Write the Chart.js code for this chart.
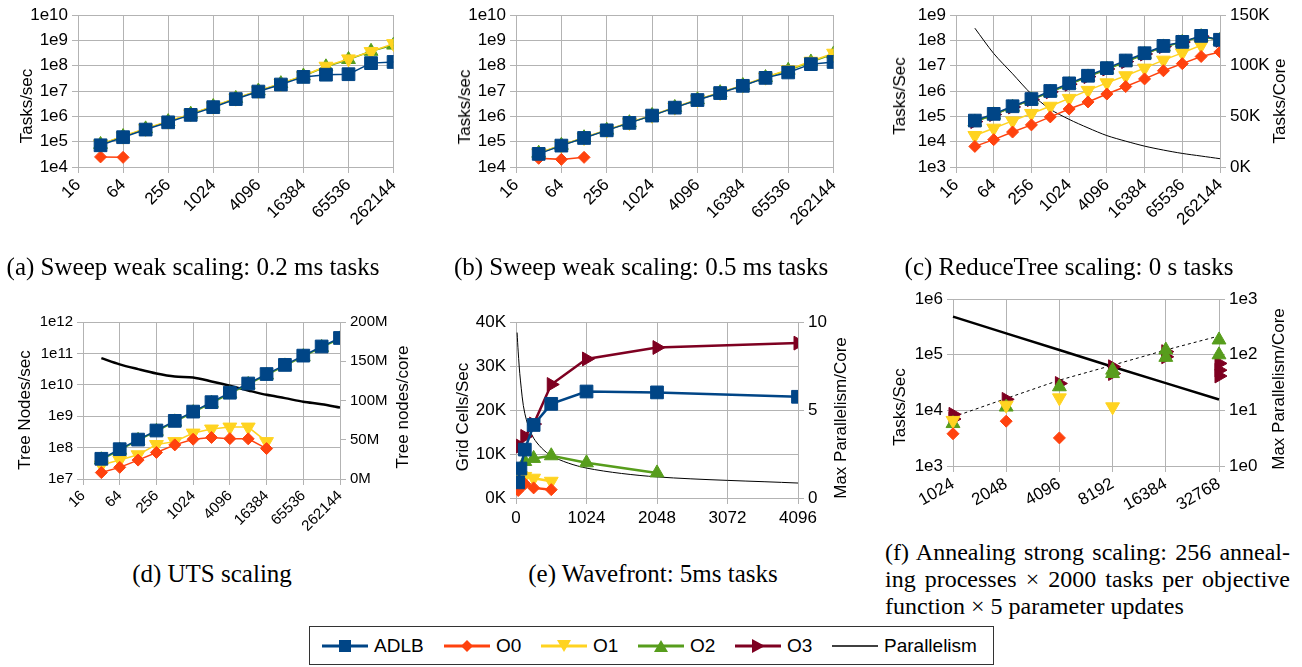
<!DOCTYPE html>
<html>
<head>
<meta charset="utf-8">
<script src="https://cdn.jsdelivr.net/npm/chart.js@4.4.1/dist/chart.umd.min.js"></script>
<style>
  body { margin: 0; background: #fff; width: 1302px; height: 667px; position: relative; overflow: hidden; font-family: "Liberation Sans", Arial, sans-serif; }
  canvas { position: absolute; }
  .cap { position: absolute; font-family: "Liberation Serif", "Times New Roman", serif; font-size: 25px; color: #000; white-space: nowrap; transform: translateX(-50%); line-height: 27px; }
  .capf { position: absolute; left: 885px; width: 405px; font-family: "Liberation Serif", "Times New Roman", serif; font-size: 24px; color: #000; white-space: nowrap; line-height: 27px; }
  .just { text-align: justify; text-align-last: justify; }
  .at { position: absolute; font-size: 17px; color: #000; white-space: nowrap; transform: translate(-50%, -50%) rotate(-90deg); }
  #legend { position: absolute; left: 309px; top: 626px; width: 683px; height: 37px; border: 1px solid #333; }
  .li { position: absolute; top: 0; height: 37px; display: flex; align-items: center; font-size: 19px; color: #000; }
  .li svg { margin-right: 6px; }
</style>
</head>
<body>
<canvas id="ca" width="410" height="245" style="left:0;top:0"></canvas>
<canvas id="cb" width="420" height="245" style="left:430px;top:0"></canvas>
<canvas id="cc" width="442" height="245" style="left:860px;top:0"></canvas>
<canvas id="cd" width="430" height="245" style="left:0;top:300px"></canvas>
<canvas id="ce" width="430" height="245" style="left:430px;top:300px"></canvas>
<canvas id="cf" width="442" height="250" style="left:860px;top:285px"></canvas>

<div class="at" style="left:27px;top:106px">Tasks/sec</div>
<div class="at" style="left:465px;top:107px">Tasks/sec</div>
<div class="at" style="left:900px;top:96px">Tasks/Sec</div>
<div class="at" style="left:1280px;top:101px">Tasks/Core</div>
<div class="at" style="left:25px;top:410px">Tree Nodes/sec</div>
<div class="at" style="left:403px;top:407px">Tree nodes/core</div>
<div class="at" style="left:463px;top:417px">Grid Cells/Sec</div>
<div class="at" style="left:841px;top:418px">Max Parallelism/Core</div>
<div class="at" style="left:900px;top:407px">Tasks/Sec</div>
<div class="at" style="left:1279px;top:389px">Max Parallelism/Core</div>

<div class="cap" style="left:193px;top:253px">(a) Sweep weak scaling: 0.2 ms tasks</div>
<div class="cap" style="left:641px;top:253px">(b) Sweep weak scaling: 0.5 ms tasks</div>
<div class="cap" style="left:1069px;top:253px">(c) ReduceTree scaling: 0 s tasks</div>
<div class="cap" style="left:212px;top:560px">(d) UTS scaling</div>
<div class="cap" style="left:653px;top:560px">(e) Wavefront: 5ms tasks</div>
<div class="capf just" style="top:539px">(f) Annealing strong scaling: 256 anneal-</div>
<div class="capf just" style="top:566px">ing processes × 2000 tasks per objective</div>
<div class="capf" style="top:593px">function × 5 parameter updates</div>

<div id="legend"></div>

<script>
// ---- data ----
const xsWeak = [32, 64, 128, 256, 512, 1024, 2048, 4096, 8192, 16384, 32768, 65536, 131072, 262144];
const xTicksLog2 = [16, 64, 256, 1024, 4096, 16384, 65536, 262144];

// (a) sweep 0.2 ms
const adlbA = [7.2e4, 1.5e5, 3.0e5, 5.8e5, 1.14e6, 2.3e6, 4.8e6, 9.5e6, 1.8e7, 3.6e7, 4.4e7, 4.6e7, 1.26e8, 1.4e8];
const o0A = [2.5e4, 2.4e4];
const o1A = [8.0e4, 1.65e5, 3.3e5, 6.4e5, 1.25e6, 2.5e6, 5.2e6, 1.03e7, 2.0e7, 4.0e7, 9.5e7, 1.85e8, 3.6e8, 7.4e8];
const o2A = [7.8e4, 1.6e5, 3.2e5, 6.2e5, 1.22e6, 2.45e6, 5.1e6, 1.0e7, 1.95e7, 3.9e7, 9.0e7, 1.75e8, 3.7e8, 6.5e8];
const yTicksSweep = [1e4, 1e5, 1e6, 1e7, 1e8, 1e9, 1e10];

// (b) sweep 0.5 ms
const adlbB = [3.3e4, 7.0e4, 1.4e5, 2.8e5, 5.5e5, 1.07e6, 2.2e6, 4.4e6, 8.3e6, 1.6e7, 3.3e7, 5.4e7, 1.15e8, 1.4e8];
const o0B = [2.2e4, 2.0e4, 2.4e4];
const o1B = [3.6e4, 7.3e4, 1.45e5, 2.9e5, 5.7e5, 1.1e6, 2.3e6, 4.6e6, 8.8e6, 1.7e7, 3.5e7, 7.0e7, 1.5e8, 3.1e8];
const o2B = [3.5e4, 7.2e4, 1.43e5, 2.85e5, 5.6e5, 1.09e6, 2.25e6, 4.5e6, 8.6e6, 1.65e7, 3.4e7, 6.6e7, 1.4e8, 2.9e8];

// (c) reduce tree
const adlbC = [6.8e4, 1.25e5, 2.5e5, 4.8e5, 1.0e6, 2.0e6, 4.0e6, 8.0e6, 1.6e7, 3.1e7, 6.0e7, 8.7e7, 1.5e8, 1.05e8];
const o0C = [6.5e3, 1.2e4, 2.4e4, 4.6e4, 9.5e4, 1.95e5, 3.7e5, 7.6e5, 1.5e6, 3.0e6, 6.3e6, 1.2e7, 2.3e7, 3.5e7];
const o1C = [1.75e4, 3.4e4, 6.6e4, 1.3e5, 2.5e5, 5.1e5, 1.06e6, 2.1e6, 4.0e6, 8.0e6, 1.65e7, 3.2e7, 6.4e7];
const o2C = [6.0e4, 1.15e5, 2.3e5, 4.5e5, 9.0e5, 1.8e6, 3.6e6, 7.2e6, 1.4e7, 2.8e7, 5.5e7, 8.3e7, 1.4e8, 1.0e8];
const o3C = [6.2e4, 1.18e5, 2.35e5, 4.6e5, 9.3e5, 1.85e6, 3.7e6, 7.4e6, 1.45e7, 2.9e7, 5.7e7, 8.5e7, 1.45e8, 1.0e8];
const parC = [137000, 112000, 92000, 72000, 57000, 47000, 38600, 31000, 25500, 20600, 16700, 13400, 10800, 8200];
const yTicksC = [1e3, 1e4, 1e5, 1e6, 1e7, 1e8, 1e9];
const rTicksC = [0, 50000, 100000, 150000];

// (d) UTS
const adlbD = [4.4e7, 8.9e7, 1.8e8, 3.5e8, 7.1e8, 1.4e9, 2.8e9, 5.6e9, 1.1e10, 2.2e10, 4.3e10, 8.5e10, 1.66e11, 3.1e11];
const o0D = [1.6e7, 2.35e7, 4.0e7, 7.0e7, 1.22e8, 1.85e8, 2.1e8, 1.93e8, 1.9e8, 9.3e7];
const o1D = [2.8e7, 4.0e7, 5.9e7, 1.25e8, 1.55e8, 2.9e8, 3.9e8, 4.5e8, 4.5e8, 1.55e8];
const o2D = [4.1e7, 8.3e7, 1.7e8, 3.3e8, 6.6e8, 1.3e9, 2.6e9, 5.2e9, 1.03e10, 2.05e10, 4.0e10, 7.9e10, 1.55e11, 2.9e11];
const parD = [154e6, 146e6, 140e6, 134.5e6, 130.6e6, 129.4e6, 124.3e6, 118.7e6, 112.8e6, 107.2e6, 103e6, 98.3e6, 95.3e6, 91e6];
const yTicksD = [1e7, 1e8, 1e9, 1e10, 1e11, 1e12];
const rTicksD = [0, 50e6, 100e6, 150e6, 200e6];

// (e) wavefront
const xsE = [32, 64, 128, 256, 512, 1024, 2048, 4096];
const adlbE = [3560, 6700, 11000, 16600, 21400, 24200, 24000, 23000];
const o0E = [1700, 2600, 3200, 2300, 1900];
const o1E = [null, 5100, 4900, 4500, 3800];
const o2E = [null, null, 8300, 9000, 9600, 8000, 5700];
const o3E = [null, 11800, 14000, 16800, 25800, 31600, 34200, 35200];
const xsParE = [16, 32, 64, 128, 256, 512, 1024, 2048, 4096];
const parE = [9.4, 8.3, 6.7, 4.8, 3.4, 2.4, 1.7, 1.2, 0.85];
const xTicksE = [0, 1024, 2048, 3072, 4096];
const yTicksE = [0, 10000, 20000, 30000, 40000];
const rTicksE = [0, 5, 10];

// (f) annealing
const catsF = ['1024', '2048', '4096', '8192', '16384', '32768'];
const o0FX = ['1024', '2048', '4096'];
const o0FY = [3800, 6400, 3200];
const o1FX = ['1024', '2048', '4096', '8192'];
const o1FY = [6600, 12400, 16800, 11600];
const o2FX = ['1024', '2048', '4096', '8192', '8192', '16384', '16384', '32768', '32768'];
const o2FY = [5800, 11500, 26600, 53000, 46000, 122000, 90000, 185000, 100000];
const o3FX = ['1024', '1024', '2048', '4096', '8192', '8192', '16384', '16384', '32768', '32768', '32768'];
const o3FY = [8500, 7000, 15800, 30500, 61000, 46000, 114000, 92000, 70000, 53000, 41500];
const idealF = [7600, 16400, 35000, 65000, 122000, 218000];
const parF = [486, 243, 122, 61, 31, 15.7];
const yTicksF = [1e3, 1e4, 1e5, 1e6];
const rTicksF = [1, 10, 100, 1000];

// ---- styles ----
const gridColor = '#b3b3b3';
const FAM = "'Liberation Sans', Arial, sans-serif";
const tickFont = { family: FAM, size: 17 };
const smallTickFont = { family: FAM, size: 15 };
const STY = {
  ADLB: { color: '#004586', style: 'rect', r: 9, rot: 0 },
  O0: { color: '#ff420e', style: 'rectRot', r: 6, rot: 0 },
  O1: { color: '#ffd320', style: 'triangle', r: 8, rot: 180 },
  O2: { color: '#579d1c', style: 'triangle', r: 8, rot: 0 },
  O3: { color: '#7e0021', style: 'triangle', r: 8, rot: 90 }
};

function pts(xs, ys) {
  return ys.map((y, i) => ({ x: xs[i], y: y })).filter(p => p.y != null);
}

function series(name, xs, ys, extra) {
  const s = STY[name];
  return Object.assign({
    label: name, data: pts(xs, ys),
    borderColor: s.color, backgroundColor: s.color,
    pointBackgroundColor: s.color, pointBorderColor: s.color, pointBorderWidth: 1,
    pointStyle: s.style, pointRadius: s.r, pointRotation: s.rot,
    borderWidth: 1.5, yAxisID: 'y'
  }, extra || {});
}

function parLine(xs, ys, width) {
  return {
    label: 'Parallelism', data: pts(xs, ys), yAxisID: 'y2',
    borderColor: '#000', borderWidth: width, pointRadius: 0, tension: 0.3
  };
}

function fixTicks(list) {
  return s => { s.ticks = list.map(v => ({ value: v })); };
}

function yAxis(type, ticks, fmt, width, pos, font) {
  const right = pos === 'right';
  return {
    type: type, position: pos || 'left',
    min: ticks[0], max: ticks[ticks.length - 1],
    afterBuildTicks: fixTicks(ticks),
    afterFit: s => { s.width = width; },
    ticks: { callback: fmt, font: font || tickFont, color: '#000', padding: 4, autoSkip: false },
    grid: { color: gridColor, tickLength: 6, drawOnChartArea: !right },
    border: { color: gridColor }
  };
}

function xLog2(height, font) {
  return {
    type: 'logarithmic', position: 'bottom', min: 16, max: 262144,
    afterBuildTicks: fixTicks(xTicksLog2),
    afterFit: s => { s.height = height; },
    ticks: { callback: v => String(v), minRotation: 45, maxRotation: 45, autoSkip: false, font: font || tickFont, color: '#000', padding: 2 },
    grid: { color: gridColor, tickLength: 6 },
    border: { color: gridColor }
  };
}

const fmtExp = v => '1e' + Math.round(Math.log10(v));

function makeChart(id, datasets, scales, padding) {
  new Chart(document.getElementById(id), {
    type: 'line',
    data: { datasets: datasets },
    options: {
      responsive: false, animation: false, devicePixelRatio: 1,
      layout: { padding: padding },
      plugins: { legend: { display: false }, tooltip: { enabled: false } },
      scales: scales
    }
  });
}

// (a)
makeChart('ca', [
  series('ADLB', xsWeak, adlbA),
  series('O0', xsWeak, o0A),
  series('O1', xsWeak, o1A),
  series('O2', xsWeak, o2A)
], {
  x: xLog2(78),
  y: yAxis('logarithmic', yTicksSweep, fmtExp, 78)
}, { top: 15, right: 10, left: 0, bottom: 0 });

// (b)
makeChart('cb', [
  series('ADLB', xsWeak, adlbB),
  series('O0', xsWeak, o0B),
  series('O1', xsWeak, o1B),
  series('O2', xsWeak, o2B)
], {
  x: xLog2(78),
  y: yAxis('logarithmic', yTicksSweep, fmtExp, 86)
}, { top: 15, right: 12, left: 0, bottom: 0 });

// (c)
makeChart('cc', [
  series('ADLB', xsWeak, adlbC),
  series('O0', xsWeak, o0C),
  series('O1', xsWeak, o1C),
  series('O2', xsWeak, o2C),
  series('O3', xsWeak, o3C),
  parLine(xsWeak, parC, 1)
], {
  x: xLog2(78),
  y: yAxis('logarithmic', yTicksC, fmtExp, 96),
  y2: yAxis('linear', rTicksC, v => (v / 1000) + 'K', 82, 'right')
}, { top: 15, right: 0, left: 0, bottom: 0 });

// (d)
makeChart('cd', [
  series('ADLB', xsWeak, adlbD),
  series('O0', xsWeak, o0D),
  series('O1', xsWeak, o1D),
  series('O2', xsWeak, o2D),
  parLine(xsWeak, parD, 2.5)
], {
  x: xLog2(66, smallTickFont),
  y: yAxis('logarithmic', yTicksD, fmtExp, 83, 'left', smallTickFont),
  y2: yAxis('linear', rTicksD, v => (v / 1e6) + 'M', 90, 'right', smallTickFont)
}, { top: 22, right: 0, left: 0, bottom: 0 });

// (e)
makeChart('ce', [
  series('ADLB', xsE, adlbE, { borderWidth: 2.5 }),
  series('O0', xsE, o0E, { borderWidth: 2.5 }),
  series('O1', xsE, o1E, { borderWidth: 2.5 }),
  series('O2', xsE, o2E, { borderWidth: 2.5 }),
  series('O3', xsE, o3E, { borderWidth: 2.5 }),
  parLine(xsParE, parE, 1)
], {
  x: {
    type: 'linear', min: 0, max: 4096,
    afterBuildTicks: fixTicks(xTicksE),
    afterFit: s => { s.height = 47; },
    ticks: { font: tickFont, color: '#000', padding: 4, maxRotation: 0, autoSkip: false, callback: v => String(v) },
    grid: { color: gridColor, tickLength: 6 }, border: { color: gridColor }
  },
  y: yAxis('linear', yTicksE, v => (v / 1000) + 'K', 86),
  y2: yAxis('linear', rTicksE, v => String(v), 62, 'right')
}, { top: 22, right: 0, left: 0, bottom: 0 });

// (f)
function scat(name, xs, ys) {
  return series(name, xs, ys, { showLine: false });
}
makeChart('cf', [
  scat('O0', o0FX, o0FY),
  scat('O1', o1FX, o1FY),
  scat('O2', o2FX, o2FY),
  scat('O3', o3FX, o3FY),
  { label: 'ideal', data: pts(catsF, idealF), yAxisID: 'y', borderColor: '#000', borderWidth: 1, borderDash: [3, 3], pointRadius: 0 },
  Object.assign(parLine(catsF, parF, 2.5), { tension: 0 })
], {
  x: {
    type: 'category', labels: catsF, offset: false,
    afterFit: s => { s.height = 69; },
    ticks: { font: tickFont, color: '#000', padding: 2, minRotation: 30, maxRotation: 30, autoSkip: false },
    grid: { color: gridColor, tickLength: 6, offset: false }, border: { color: gridColor }
  },
  y: yAxis('logarithmic', yTicksF, fmtExp, 93),
  y2: yAxis('logarithmic', rTicksF, fmtExp, 83, 'right')
}, { top: 14, right: 0, left: 0, bottom: 0 });

// ---- legend ----
const legendNames = ['ADLB', 'O0', 'O1', 'O2', 'O3', 'Parallelism'];
const legendLefts = [12, 134, 231, 328, 425, 522];
function markerSvg(name) {
  if (name === 'Parallelism') {
    return '<svg width="46" height="20"><line x1="0" y1="10" x2="46" y2="10" stroke="#000" stroke-width="1.3"/></svg>';
  }
  const c = STY[name].color;
  let m = '';
  if (name === 'ADLB') m = '<rect x="17" y="4" width="12" height="12" fill="' + c + '"/>';
  if (name === 'O0') m = '<polygon points="23,4 29,10 23,16 17,10" fill="' + c + '"/>';
  if (name === 'O1') m = '<polygon points="16,4 30,4 23,16" fill="' + c + '"/>';
  if (name === 'O2') m = '<polygon points="23,4 30,16 16,16" fill="' + c + '"/>';
  if (name === 'O3') m = '<polygon points="17,3 30,10 17,17" fill="' + c + '"/>';
  return '<svg width="46" height="20"><line x1="0" y1="10" x2="46" y2="10" stroke="' + c + '" stroke-width="3"/>' + m + '</svg>';
}
const lg = document.getElementById('legend');
legendNames.forEach((n, i) => {
  const d = document.createElement('div');
  d.className = 'li';
  d.style.left = legendLefts[i] + 'px';
  d.innerHTML = markerSvg(n) + '<span>' + n + '</span>';
  lg.appendChild(d);
});
</script>
</body>
</html>
